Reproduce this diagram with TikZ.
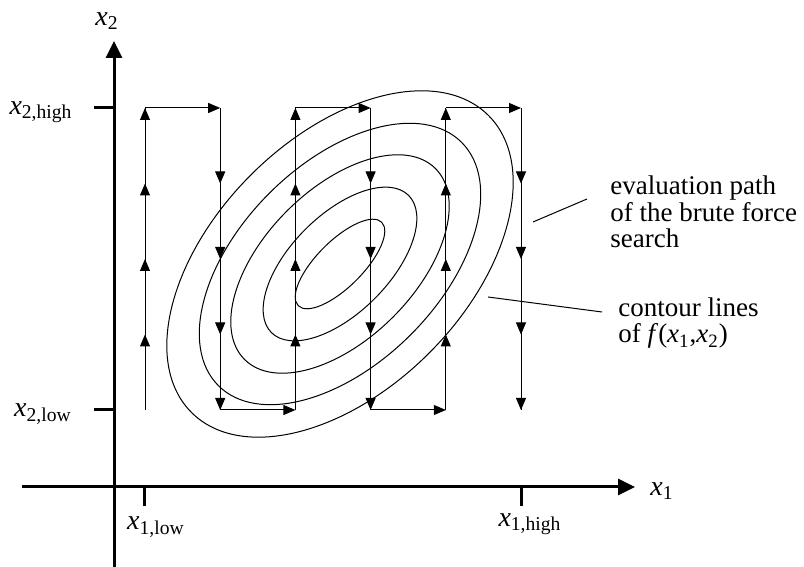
\documentclass[tikz,border=0pt]{standalone}
\usepackage{fontspec}
\setmainfont{Liberation Serif}
\usepackage{tikz}
\usetikzlibrary{positioning,arrows.meta,calc,decorations.markings}
\newcommand{\xvar}[1]{\textit{x}\textsubscript{#1}}

\begin{document}
\begin{tikzpicture}[x=0.5pt, y=0.5pt,
  axis/.style={line width=1.5pt},
  axtip/.style={-{Triangle[length=8.5pt, width=8pt]}},
  pth/.style={line width=0.5pt},
  ptip/.style={-{Triangle[length=6pt, width=5pt]}},
  quarters/.style={pth, decoration={markings,
      mark=at position 0.25 with {\arrow{Triangle[length=6pt, width=5pt]}},
      mark=at position 0.5 with {\arrow{Triangle[length=6pt, width=5pt]}},
      mark=at position 0.75 with {\arrow{Triangle[length=6pt, width=5pt]}},
      mark=at position 1 with {\arrow{Triangle[length=6pt, width=5pt]}}},
      postaction={decorate}},
  contour/.style={line width=0.5pt},
  axlbl/.style={font=\fontsize{14}{16}\selectfont, inner sep=0pt},
  txt/.style={font=\fontsize{13.5}{13.3}\selectfont, align=left, inner sep=0pt, anchor=west},
]
\useasboundingbox (0,0) rectangle (804,567);

% axes
\coordinate (o)    at (114,80);
\coordinate (ybot) at (114,0);
\coordinate (ytop) at (114,526);
\coordinate (xlft) at (22,80);
\coordinate (xrgt) at (635,80);
\draw[axis] (ybot) -- (o);
\draw[axis, axtip] (o) -- (ytop);
\draw[axis, axtip] (xlft) -- (xrgt);

% ticks
\coordinate (t2hi) at (94,459);
\coordinate (t2lo) at (94,157);
\coordinate (t1lo) at (144,61);
\coordinate (t1hi) at (521,61);
\draw[axis] (t2hi) -- (t2hi -| o);
\draw[axis] (t2lo) -- (t2lo -| o);
\draw[axis] (t1lo) -- (t1lo |- o);
\draw[axis] (t1hi) -- (t1hi |- o);

\node[axlbl] (lx2)   at (107,546) {\xvar{2}};
\node[axlbl] (lx1)   at (662,76)  {\xvar{1}};
\node[axlbl] (lx2hi) at (41,455)  {\xvar{2,high}};
\node[axlbl] (lx2lo) at (43,153)  {\xvar{2,low}};
\node[axlbl] (lx1lo) at (156,40)  {\xvar{1,low}};
\node[axlbl] (lx1hi) at (530,43)  {\xvar{1,high}};

% contour lines
\coordinate (ctr) at (340,303);
\foreach \a/\b in {59/23, 97/49, 135/75, 172/100, 210/126}
  \draw[contour, rotate around={45:(ctr)}] (ctr) ellipse [x radius=\a, y radius=\b];

% brute force path
\foreach \i in {1,...,6} {
  \coordinate (lo\i) at ({145+75.2*(\i-1)},157);
  \coordinate (hi\i) at ({145+75.2*(\i-1)},459);
}
\draw[quarters] (lo1) -- (hi1);
\draw[pth, ptip] (hi1) -- (hi2);
\draw[quarters] (hi2) -- (lo2);
\draw[pth, ptip] (lo2) -- (lo3);
\draw[quarters] (lo3) -- (hi3);
\draw[pth, ptip] (hi3) -- (hi4);
\draw[quarters] (hi4) -- (lo4);
\draw[pth, ptip] (lo4) -- (lo5);
\draw[quarters] (lo5) -- (hi5);
\draw[pth, ptip] (hi5) -- (hi6);
\draw[quarters] (hi6) -- (lo6);

% labels
\node[txt] (evaltxt) at (610,355) {evaluation path\\of the brute force\\search};
\node[txt] (conttxt) at (618,244) {contour lines\\of \textit{f}(\xvar{1},\xvar{2})};
\coordinate (evfrom) at (533,345);
\coordinate (evto)   at (587,368);
\coordinate (cofrom) at (488,270);
\coordinate (coto)   at (602,255);
\draw[pth] (evfrom) -- (evto);
\draw[pth] (cofrom) -- (coto);
\end{tikzpicture}
\end{document}
